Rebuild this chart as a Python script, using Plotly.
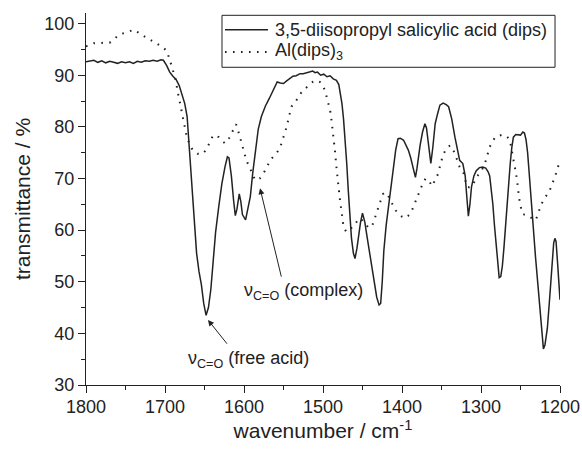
import plotly.graph_objects as go

# 3,5-diisopropyl salicylic acid (dips) — solid line
dips_wn = [1800, 1795, 1790, 1785, 1780, 1775, 1770, 1765, 1760, 1755, 1750, 1745, 1740, 1735, 1730,
           1725, 1720, 1715, 1710, 1705, 1702, 1698, 1694, 1690, 1686, 1682, 1678, 1675, 1672, 1670,
           1668, 1666, 1664, 1662, 1660, 1657, 1654, 1651, 1648, 1645, 1642, 1639, 1636, 1632, 1628,
           1624, 1621, 1619, 1616, 1613, 1611, 1609, 1606, 1604, 1602, 1598, 1595, 1592, 1589, 1586,
           1582, 1578, 1573, 1568, 1563, 1558, 1554, 1550, 1546, 1542, 1538, 1534, 1529, 1525, 1521,
           1517, 1513, 1510, 1507, 1503, 1499, 1495, 1491, 1487, 1483, 1480, 1478, 1476, 1474, 1472,
           1470, 1468, 1466, 1464, 1461.5, 1459.5, 1457, 1455, 1452.5, 1450, 1447, 1444, 1441, 1438, 1435,
           1432, 1429, 1427, 1425, 1423, 1420, 1417, 1414, 1411, 1408, 1405, 1402, 1398, 1395, 1392,
           1389, 1386, 1383, 1381, 1379, 1377, 1374, 1371, 1369, 1367, 1365, 1363.5, 1361, 1358, 1355,
           1352, 1348, 1344, 1341, 1337, 1333, 1330, 1327, 1323, 1320, 1318, 1316, 1314, 1312, 1309,
           1306, 1302, 1298, 1294, 1291, 1289, 1287, 1285, 1283, 1281, 1279, 1277, 1275, 1273, 1271,
           1269, 1267, 1265, 1263, 1261, 1259, 1256, 1253, 1250, 1247, 1245, 1243, 1241, 1239, 1237,
           1234, 1231, 1228, 1225, 1223, 1221, 1219, 1216, 1213, 1210, 1208, 1206.5, 1205, 1203, 1201, 1200]
dips_t = [92.6, 92.7, 92.9, 92.5, 92.8, 92.4, 92.7, 92.5, 92.3, 92.6, 92.4, 92.6, 92.3, 92.7, 92.5,
          92.8, 92.7, 92.9, 92.7, 93.0, 92.9, 91.9, 90.6, 89.8, 89.2, 88.0, 86.2, 84.5, 82.0, 77.5,
          73.5, 68.5, 64.0, 59.5, 55.5, 52.0, 49.5, 45.8, 43.5, 45.0, 48.5, 54.0, 59.5, 64.5, 69.0,
          72.3, 74.2, 74.0, 70.5, 65.5, 62.8, 64.0, 67.0, 65.5, 63.0, 62.0, 64.0, 66.5, 71.0, 75.0,
          79.5, 82.0, 84.0, 85.5, 87.0, 88.7, 88.5, 88.4, 88.9, 89.4, 89.8, 89.9, 90.3, 90.3, 90.5,
          90.6, 90.8, 90.5, 90.6, 90.0, 90.2, 89.7, 89.9, 89.3, 89.0, 88.2, 86.5, 84.5, 81.5, 78.0,
          73.0, 67.7, 62.5, 58.5, 55.5, 54.5, 56.5, 59.0, 61.5, 63.3, 61.5, 58.5, 55.5, 52.8, 49.5,
          47.0, 45.5, 45.8, 50.0, 56.0, 61.0, 64.5, 68.5, 72.2, 75.5, 77.7, 77.8, 77.4, 76.5, 75.5,
          74.0, 72.2, 70.2, 72.0, 74.5, 76.5, 79.0, 80.6, 79.8, 77.5, 74.5, 72.9, 76.0, 80.6, 82.5,
          84.2, 84.6, 84.3, 83.9, 81.5, 78.0, 75.5, 73.5, 72.9, 70.5, 66.5, 62.7, 65.0, 68.4, 70.5,
          71.5, 72.1, 72.2, 72.0, 71.3, 70.5, 68.0, 65.0, 61.0, 57.5, 53.0, 50.8, 51.0, 53.0, 56.5,
          61.0, 65.5, 69.5, 72.9, 76.0, 78.0, 78.5, 78.4, 78.4, 79.0, 78.8, 77.5, 75.0, 71.0, 66.5,
          60.5, 54.8, 49.5, 43.9, 40.0, 37.0, 37.8, 41.0, 47.0, 53.0, 57.5, 58.4, 57.8, 53.5, 48.0, 46.5]

# Al(dips)3 — dotted line
al_wn = [1800, 1795, 1790, 1782, 1775, 1770, 1765, 1759, 1753, 1748, 1743, 1739, 1735, 1732, 1727,
         1721, 1716, 1710, 1704, 1698, 1694, 1691, 1687, 1683, 1679, 1676, 1673, 1670, 1665, 1659,
         1653, 1648, 1645, 1642, 1639, 1636, 1632, 1628, 1624, 1621, 1618, 1614, 1610, 1606, 1603,
         1600, 1597, 1593, 1590, 1586, 1583, 1580, 1576, 1573, 1570, 1567, 1564, 1561, 1557, 1554,
         1550, 1546, 1543, 1540, 1536, 1533, 1530, 1527, 1523, 1518, 1513, 1508, 1504, 1500, 1497,
         1494, 1491, 1489, 1487, 1485, 1483, 1481, 1478.5, 1476, 1474, 1471, 1468, 1465, 1461, 1458,
         1453, 1448, 1443, 1439, 1436, 1433, 1430, 1427, 1424, 1421, 1418, 1415, 1412, 1408, 1404,
         1400, 1396, 1392, 1388, 1385, 1381, 1377, 1373, 1370, 1366, 1362, 1358, 1354, 1351, 1348,
         1345, 1342, 1339, 1336, 1333, 1330, 1327, 1324, 1322, 1320, 1318, 1315, 1312, 1309, 1305.5,
         1302, 1299, 1295, 1292, 1289, 1286, 1282, 1277, 1272, 1268, 1265, 1263, 1261, 1259, 1257,
         1255, 1253, 1252, 1250, 1248, 1245, 1242, 1239, 1236, 1233, 1231, 1228, 1225, 1222, 1219,
         1216, 1213, 1210, 1208, 1205, 1202, 1200]
al_t = [95.6, 95.8, 96.2, 96.3, 96.3, 96.3, 97.0, 97.7, 98.1, 98.4, 98.7, 98.8, 98.4, 98.0, 97.6,
        97.1, 96.6, 96.1, 95.5, 94.8, 93.0, 91.6, 89.4, 86.1, 83.2, 80.6, 78.5, 77.1, 75.5, 74.8,
        74.7, 75.5, 76.4, 77.5, 78.4, 78.3, 78.0, 77.3, 76.8, 77.3, 78.0, 79.3, 80.5, 78.5, 76.8,
        75.0, 73.5, 72.2, 71.0, 69.7, 69.8, 70.0, 70.8, 71.6, 72.5, 73.5, 74.0, 74.5, 75.3, 76.1,
        78.0, 80.0, 82.0, 83.9, 84.6, 85.2, 86.0, 86.8, 87.4, 88.1, 88.7, 89.0, 88.7, 88.0, 86.8,
        85.0, 83.2, 81.0, 78.7, 75.5, 72.2, 69.0, 65.8, 63.0, 60.6, 59.8, 59.7, 60.2, 61.0, 61.5,
        62.3, 61.5, 60.6, 60.5, 61.5, 63.0, 64.5, 65.7, 67.0, 67.3, 66.8, 65.8, 64.8, 63.8, 63.2,
        62.6, 62.3, 62.8, 63.6, 64.8, 66.2, 67.6, 69.3, 70.0, 69.6, 68.5, 69.8, 71.0, 73.0, 74.5,
        75.5, 76.1, 76.4, 75.8, 74.8, 73.5, 72.2, 71.5, 71.0, 69.8, 68.4, 68.3, 68.4, 69.2, 70.3,
        71.0, 71.6, 72.9, 74.5, 76.1, 77.0, 78.0, 78.3, 78.5, 78.2, 77.8, 77.1, 75.5, 73.9, 72.0,
        70.3, 68.0, 66.4, 64.8, 63.2, 63.0, 62.9, 62.6, 62.3, 62.0, 61.9, 63.0, 64.5, 65.5, 66.4,
        67.0, 67.7, 68.7, 69.7, 71.0, 72.6, 73.5]

series_names = ["3,5-diisopropyl salicylic acid (dips)", "Al(dips)<sub>3</sub>"]
x_ticks = [1800, 1700, 1600, 1500, 1400, 1300, 1200]
y_ticks = [30, 40, 50, 60, 70, 80, 90, 100]

X_RANGE = [1800, 1200]
Y_RANGE = [30, 102.05]
FONT = "Liberation Sans, Arial, sans-serif"
INK = "#222"
SOLID = dict(color=INK, width=1.5)
DOTTED = dict(color=INK, width=2, dash="1.6px,6.4px")

fig = go.Figure()
fig.add_trace(go.Scatter(x=dips_wn, y=dips_t, mode="lines", name=series_names[0], line=SOLID))
fig.add_trace(go.Scatter(x=al_wn, y=al_t, mode="lines", name=series_names[1], line=DOTTED))

fig.update_layout(
    width=582, height=449,
    margin=dict(l=86, r=22, t=13, b=64),
    paper_bgcolor="white", plot_bgcolor="white",
    font=dict(family=FONT, size=18, color=INK),
    showlegend=False,
    xaxis=dict(range=X_RANGE, tickvals=x_ticks, showgrid=False, zeroline=False,
               showline=True, linecolor=INK, linewidth=1,
               ticks="outside", ticklen=7, tickcolor=INK, ticklabelstandoff=-2,
               minor=dict(dtick=50, ticks="outside", ticklen=4, tickcolor=INK),
               title=dict(text="wavenumber / cm<sup>-1</sup>", font=dict(size=21), standoff=4),
               automargin=False),
    yaxis=dict(range=Y_RANGE, tickvals=y_ticks, showgrid=False, zeroline=False,
               showline=True, linecolor=INK, linewidth=1,
               ticks="outside", ticklen=7, tickcolor=INK,
               minor=dict(dtick=5, ticks="outside", ticklen=4, tickcolor=INK),
               title=dict(text="transmittance / %", font=dict(size=21), standoff=8),
               automargin=False),
    xaxis2=dict(range=X_RANGE, overlaying="x", side="top", anchor="y", dtick=50, tick0=1200,
                showgrid=False, zeroline=False, showline=True, linecolor=INK, linewidth=1,
                ticks="inside", ticklen=5, tickcolor=INK, showticklabels=False),
    yaxis2=dict(range=Y_RANGE, overlaying="y", side="right", anchor="x", dtick=5, tick0=30,
                showgrid=False, zeroline=False, showline=True, linecolor=INK, linewidth=1,
                ticks="inside", ticklen=5, tickcolor=INK, showticklabels=False),
)

# legend box (drawn in paper coordinates, top-right inside the frame)
LEG_X0, LEG_X1, LEG_Y0, LEG_Y1 = 0.2869, 0.9895, 0.8541, 0.9938
ROW_Y = [0.9553, 0.8952]
SAMPLE_X = [0.2932, 0.3840]
TEXT_X = 0.3945
fig.add_shape(type="rect", xref="paper", yref="paper", x0=LEG_X0, x1=LEG_X1, y0=LEG_Y0, y1=LEG_Y1,
              line=dict(color=INK, width=1), fillcolor="white", layer="above")
for ry, style, name in zip(ROW_Y, [SOLID, DOTTED], series_names):
    fig.add_shape(type="line", xref="paper", yref="paper", x0=SAMPLE_X[0], x1=SAMPLE_X[1], y0=ry, y1=ry,
                  line=style, layer="above")
    fig.add_annotation(x=TEXT_X, y=ry, xref="paper", yref="paper", xanchor="left", yanchor="middle",
                       showarrow=False, text=name, font=dict(size=18, color=INK))

# arrows
fig.add_annotation(x=1645.6, y=42.6, ax=1620, ay=37.7, axref="x", ayref="y", xref="x", yref="y",
                   text="", showarrow=True, arrowhead=2, arrowsize=1.2, arrowwidth=1, arrowcolor=INK)
fig.add_annotation(x=1579.7, y=68.1, ax=1552.3, ay=50.7, axref="x", ayref="y", xref="x", yref="y",
                   text="", showarrow=True, arrowhead=2, arrowsize=1.2, arrowwidth=1, arrowcolor=INK)
# labels
fig.add_annotation(x=1594, y=35.0, xref="x", yref="y", showarrow=False,
                   text="ν<sub>C=O</sub> (free acid)", font=dict(size=18, color=INK))
fig.add_annotation(x=1525, y=48.1, xref="x", yref="y", showarrow=False,
                   text="ν<sub>C=O</sub> (complex)", font=dict(size=18, color=INK))

fig.write_html("out.html")
